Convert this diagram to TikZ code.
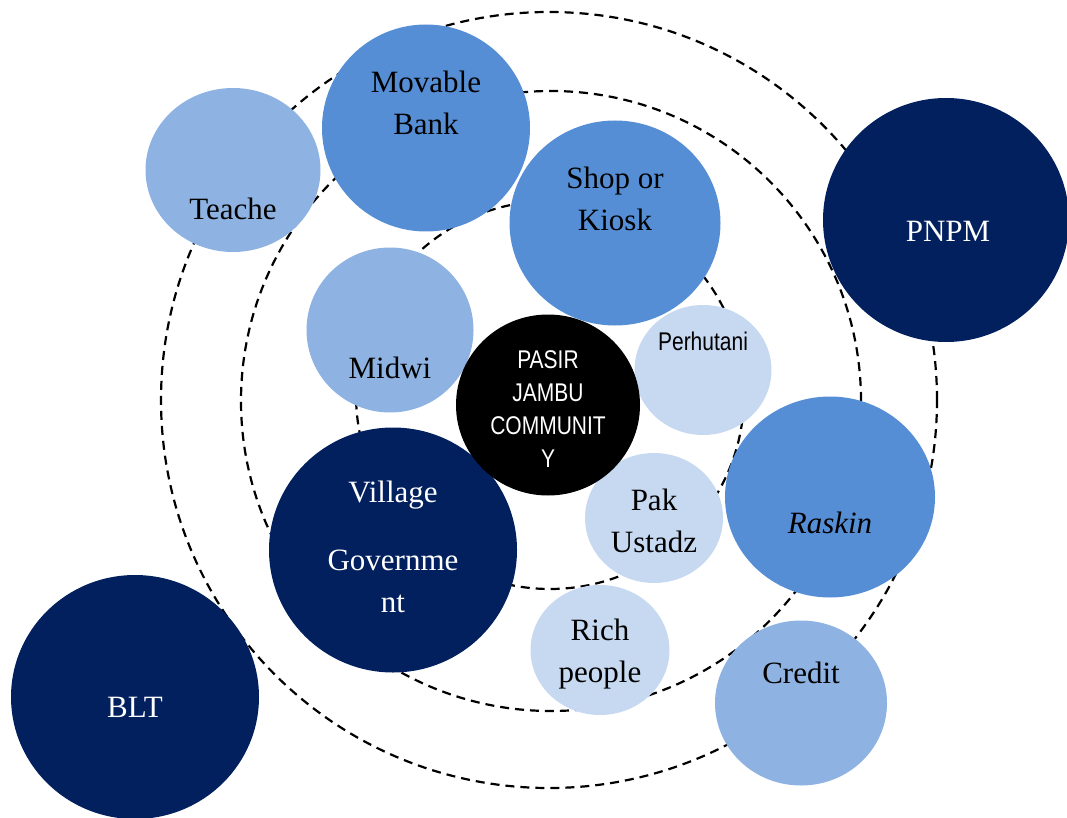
\documentclass[tikz,border=0pt]{standalone}
\usepackage{fontspec}
\setmainfont{Liberation Serif}
\newfontfamily\narrowsans[FakeStretch=0.82]{Liberation Sans}
\usetikzlibrary{shapes.geometric}

\definecolor{navy}{HTML}{02205E}
\definecolor{midblue}{HTML}{558ED5}
\definecolor{lightblue}{HTML}{8EB3E2}
\definecolor{paleblue}{HTML}{C6D9F1}

\tikzset{
  ring/.style={circle, inner sep=0pt, draw, line width=2.2pt, dash pattern=on 9pt off 6pt},
  bubble/.style={ellipse, inner sep=0pt, draw=none},
  txt/.style={align=center, anchor=base, inner sep=0pt, font=\fontsize{31}{42}\selectfont},
  wtxt/.style={txt, text=white},
}

\begin{document}
\begin{tikzpicture}[x=1pt, y=-1pt]
    \useasboundingbox (0,0) rectangle (1067,818);

    % dashed rings
    \node[ring, minimum size=776pt] (outer) at (549,400) {};
    \node[ring, minimum size=620pt] (middle) at (551,401) {};
    \node[ring, minimum size=388pt] (inner) at (550,395) {};

    % bubbles
    \node[bubble, fill=lightblue, minimum width=175pt, minimum height=164pt] (teache) at (233,170) {};
    \node[bubble, fill=midblue, minimum width=208pt, minimum height=207pt] (bank) at (426,128) {};
    \node[bubble, fill=midblue, minimum width=211pt, minimum height=205pt] (shop) at (615,223) {};
    \node[bubble, fill=navy, minimum width=246pt, minimum height=244pt] (pnpm) at (946,220) {};
    \node[bubble, fill=lightblue, minimum width=167pt, minimum height=165pt] (midwi) at (390,330) {};
    \node[bubble, fill=paleblue, minimum width=137pt, minimum height=130pt] (perhutani) at (703,370) {};
    \node[bubble, fill=midblue, minimum width=210pt, minimum height=201pt] (raskin) at (830,497) {};
    \node[bubble, fill=navy, minimum width=248pt, minimum height=245pt] (village) at (393,550) {};
    \node[bubble, fill=paleblue, minimum width=138pt, minimum height=130pt] (ustadz) at (654,518) {};
    \node[bubble, fill=paleblue, minimum width=139pt, minimum height=130pt] (rich) at (600,650) {};
    \node[bubble, fill=lightblue, minimum width=172pt, minimum height=165pt] (credit) at (801,703) {};
    \node[bubble, fill=navy, minimum width=248pt, minimum height=244pt] (blt) at (135,697) {};
    \node[bubble, fill=black, minimum width=184pt, minimum height=181pt] (pasir) at (548,405) {};

    % labels (base = baseline of the last line)
    \node[txt] (teache-t) at (233,220) {Teache};
    \node[txt] (bank-t) at (426,135) {Movable\\Bank};
    \node[txt] (shop-t) at (615,231) {Shop or\\Kiosk};
    \node[wtxt] (pnpm-t) at (948,241) {PNPM};
    \node[txt] (midwi-t) at (390,378) {Midwi};
    \node[txt, font=\narrowsans\fontsize{25.6}{33}\selectfont] (perhutani-t) at (703,350) {Perhutani};
    \node[txt, text=white, font=\narrowsans\fontsize{25.6}{33}\selectfont] (pasir-t) at (548,467) {PASIR\\JAMBU\\COMMUNIT\\Y};
    \node[txt] (raskin-t) at (830,533) {\itshape Raskin};
    \node[wtxt] (village-t) at (393,612) {Village\\[26pt]Governme\\nt};
    \node[txt] (ustadz-t) at (654,552) {Pak\\Ustadz};
    \node[txt] (rich-t) at (600,682) {Rich\\people};
    \node[txt] (credit-t) at (801,683) {Credit};
    \node[wtxt] (blt-t) at (135,717) {BLT};
\end{tikzpicture}
\end{document}
